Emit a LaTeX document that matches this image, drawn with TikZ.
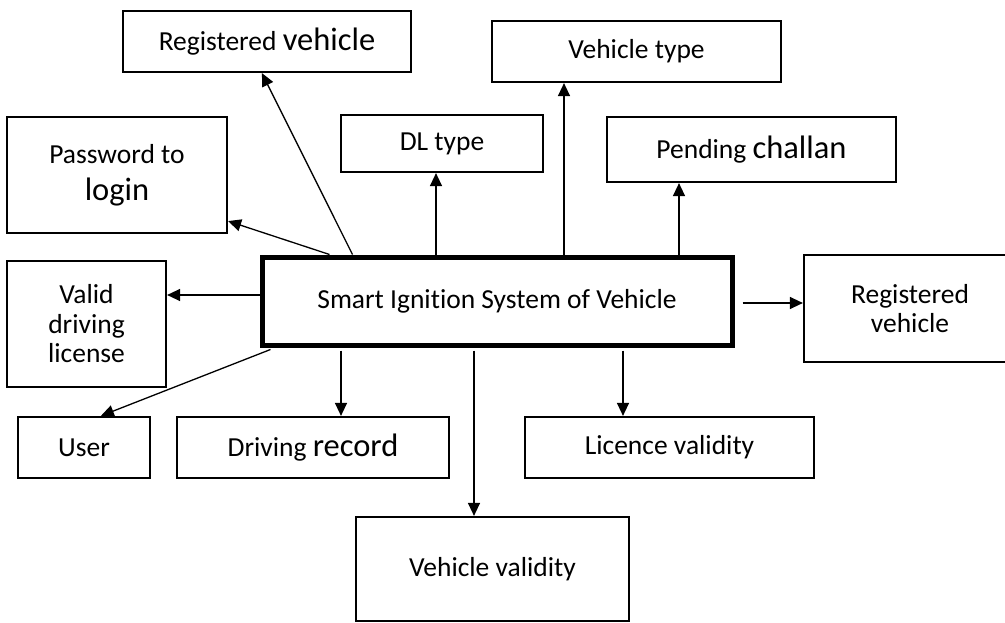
\documentclass[tikz,border=0pt]{standalone}
\usepackage{fontspec}
\setmainfont{Carlito}[Ligatures=NoCommon]
\usetikzlibrary{arrows.meta}
\newcommand\bigw[1]{{\fontsize{32.5}{37}\selectfont #1}}
\begin{document}
\begin{tikzpicture}[x=1pt,y=-1pt,
  box/.style={draw, line width=2.2pt, inner sep=0pt, align=center, font=\fontsize{27.5}{29.5}\selectfont},
  mainbox/.style={box, line width=5pt},
  arr/.style={line width=1.3pt, -{Triangle[length=13pt,width=12pt]}}]
\useasboundingbox (0,0) rectangle (1005,623);
% boxes
\node[box, minimum width=288, minimum height=61] (regtop) at (267,41.5) {Registered \bigw{vehicle}};
\node[box, minimum width=289, minimum height=61] (vtype) at (636.5,51.5) {Vehicle type};
\node[box, minimum width=202, minimum height=57] (dl) at (442,143.5) {DL type};
\node[box, minimum width=289, minimum height=65] (pend) at (751.5,149.5) {Pending \bigw{challan}};
\node[box, minimum width=220, minimum height=116] (pass) at (117,175) {Password to\\[7pt]\bigw{login}};
\node[box, minimum width=159, minimum height=126] (valid) at (86.5,324) {Valid\\driving\\license};
\node[mainbox, minimum width=470, minimum height=88] (smart) at (497,301) {Smart Ignition System of Vehicle};
\node[box, minimum width=212, minimum height=107] (regright) at (910,308.5) {Registered\\vehicle};
\node[box, minimum width=132, minimum height=61] (user) at (84,447.5) {User};
\node[box, minimum width=272, minimum height=61] (drec) at (313,447.5) {Driving \bigw{record}};
\node[box, minimum width=289, minimum height=61] (lic) at (669.5,447.5) {Licence validity};
\node[box, minimum width=273, minimum height=104] (vval) at (492.5,569) {Vehicle validity};
% x positions of the vertical connectors
\coordinate (xdl) at (436,0);
\coordinate (xvt) at (564,0);
\coordinate (xpc) at (679,0);
\coordinate (xdr) at (341,0);
\coordinate (xvv) at (474,0);
\coordinate (xlv) at (623,0);
% connectors
\draw[arr] ([xshift=93pt]smart.north west) -- ([xshift=140pt]regtop.south west);
\draw[arr] ([xshift=70pt]smart.north west) -- ([yshift=13pt]pass.south east);
\draw[arr] (smart.north -| xdl) -- (dl.south -| xdl);
\draw[arr] (smart.north -| xvt) -- (vtype.south -| xvt);
\draw[arr] (smart.north -| xpc) -- (pend.south -| xpc);
\draw[arr] ([yshift=6pt]smart.west) -- ([yshift=6pt]smart.west -| valid.east);
\draw[arr] ([xshift=8pt,yshift=-2pt]smart.east) -- ([yshift=-2pt]smart.east -| regright.west);
\draw[arr] ([xshift=11pt,yshift=-2pt]smart.south west) -- ([xshift=84pt]user.north west);
\draw[arr] ([yshift=-3pt]smart.south -| xdr) -- (drec.north -| xdr);
\draw[arr] ([yshift=-3pt]smart.south -| xvv) -- (vval.north -| xvv);
\draw[arr] ([yshift=-3pt]smart.south -| xlv) -- (lic.north -| xlv);
\end{tikzpicture}
\end{document}
